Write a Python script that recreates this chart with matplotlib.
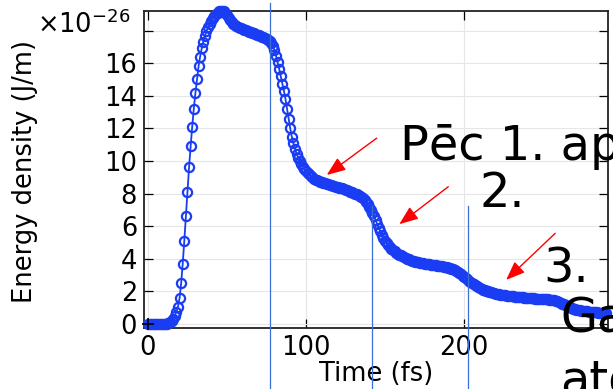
import numpy as np
import matplotlib
matplotlib.use("Agg")
import matplotlib.pyplot as plt

# energy density, units of 1e-26 J/m, one sample per fs
energy = [
    0, 0, 0, 0, 0, 0, 0, 0, 0, 0,
    0, 0, 0.02, 0.05, 0.1, 0.18, 0.3, 0.5, 0.75, 1.06,
    1.58, 2.5, 3.7, 5.1, 6.6, 8.1, 9.6, 10.9, 12.1, 13.2,
    14.15, 15.0, 15.8, 16.4, 16.9, 17.3, 17.65, 17.95, 18.2, 18.4,
    18.6, 18.75, 18.9, 19.0, 19.1, 19.17, 19.22, 19.22, 19.18, 19.08,
    18.95, 18.8, 18.65, 18.5, 18.4, 18.32, 18.26, 18.22, 18.18, 18.14,
    18.1, 18.06, 18.02, 17.98, 17.94, 17.9, 17.86, 17.82, 17.78, 17.74,
    17.7, 17.66, 17.62, 17.58, 17.53, 17.48, 17.42, 17.35, 17.25, 17.05,
    16.8, 16.45, 16.05, 15.65, 15.2, 14.75, 14.3, 13.8, 13.2, 12.6,
    12.0, 11.5, 11.1, 10.75, 10.45, 10.2, 9.98, 9.8, 9.65, 9.52,
    9.4, 9.28, 9.17, 9.07, 8.99, 8.92, 8.86, 8.81, 8.77, 8.73,
    8.7, 8.67, 8.64, 8.61, 8.58, 8.55, 8.52, 8.49, 8.46, 8.43,
    8.4, 8.37, 8.34, 8.31, 8.28, 8.24, 8.2, 8.16, 8.12, 8.08,
    8.04, 8.0, 7.95, 7.9, 7.85, 7.78, 7.7, 7.6, 7.48, 7.35,
    7.2, 7.02, 6.82, 6.6, 6.37, 6.13, 5.9, 5.68, 5.47, 5.28,
    5.11, 4.96, 4.83, 4.72, 4.62, 4.53, 4.45, 4.38, 4.32, 4.26,
    4.2, 4.15, 4.1, 4.05, 4.0, 3.96, 3.92, 3.88, 3.85, 3.82,
    3.79, 3.77, 3.75, 3.73, 3.71, 3.7, 3.68, 3.67, 3.65, 3.64,
    3.62, 3.61, 3.59, 3.58, 3.56, 3.55, 3.53, 3.51, 3.49, 3.47,
    3.45, 3.42, 3.39, 3.35, 3.3, 3.25, 3.19, 3.12, 3.05, 2.97,
    2.89, 2.81, 2.73, 2.65, 2.57, 2.5, 2.43, 2.37, 2.31, 2.25,
    2.2, 2.15, 2.11, 2.07, 2.03, 2.0, 1.97, 1.94, 1.91, 1.88,
    1.86, 1.84, 1.82, 1.8, 1.78, 1.76, 1.75, 1.73, 1.72, 1.71,
    1.7, 1.69, 1.68, 1.67, 1.66, 1.65, 1.64, 1.63, 1.62, 1.61,
    1.6, 1.59, 1.58, 1.57, 1.57, 1.56, 1.55, 1.55, 1.54, 1.53,
    1.53, 1.52, 1.51, 1.5, 1.49, 1.48, 1.46, 1.44, 1.41, 1.38,
    1.34, 1.3, 1.25, 1.2, 1.15, 1.1, 1.05, 1.01, 0.97, 0.94,
    0.91, 0.88, 0.86, 0.84, 0.82, 0.8, 0.79, 0.78, 0.77, 0.76,
    0.75, 0.74, 0.73, 0.72, 0.71, 0.7, 0.7, 0.69, 0.69, 0.68, 0.68,
]
time_fs = np.arange(len(energy))

x_ticks = [0, 100, 200]
y_ticks = [0, 2, 4, 6, 8, 10, 12, 14, 16, 18]
y_tick_labels = ["0", "2", "4", "6", "8", "10", "12", "14", "16", ""]

# pulse markers (fs) and how far up they reach (axes fraction)
pulse_times = [77.5, 141.5, 202.5]
pulse_tops = [1.025, 0.385, 0.385]

# arrows: (tail x, tail y, tip x, tip y) in data units
arrows = [(144.7, 11.4, 113.1, 9.14),
          (190.0, 8.42, 159.0, 6.12),
          (257.6, 5.56, 226.6, 2.7)]

# big labels (figure fraction, baseline)
notes = [("Pēc 1. ap", 0.6525, 0.5887),
         ("2.", 0.783, 0.4686),
         ("3.", 0.8858, 0.2733),
         ("Ga", 0.9135, 0.144),
         ("ato", 0.9135, -0.013)]

blue = "#1a3cf2"
fs = 18.5

fig = plt.figure(figsize=(6.13, 3.89), dpi=100)
ax = fig.add_axes([0.2349, 0.1568, 0.7569, 0.8149])

ax.plot(time_fs, energy, "-o", color=blue, mfc="none", mec=blue,
        ms=6.6, mew=1.6, lw=1.3, clip_on=False, zorder=3)
ax.plot([0], [0], "+", color="black", ms=8, mew=1.2, clip_on=False, zorder=4)

ax.set_xlim(-2.5, 291)
ax.set_ylim(-0.25, 19.2)
ax.set_xticks(x_ticks)
ax.set_yticks(y_ticks)
ax.set_yticklabels(y_tick_labels)
ax.tick_params(direction="in", length=6.5, width=0.9, labelsize=fs,
               top=True, right=True, pad=5)
ax.grid(True, color="#e6e6e6", lw=0.8)
ax.set_axisbelow(True)
for s in ax.spines.values():
    s.set_linewidth(1.3)
    s.set_color("#222222")

ax.set_xlabel("Time (fs)", fontsize=fs)
ax.xaxis.set_label_coords(0.5, -0.105)
ax.xaxis.label.set_va("top")
ax.set_ylabel("Energy density (J/m)", fontsize=fs)
ax.yaxis.set_label_coords(-0.228, 0.494)

fig.text(0.06, 0.915, r"×10$^{\mathregular{-26}}$", fontsize=fs, va="baseline")

trans = ax.get_xaxis_transform()
for t, top in zip(pulse_times, pulse_tops):
    ax.plot([t, t], [top, -0.2], color="#3a6fd6", lw=0.9,
            transform=trans, clip_on=False, zorder=5)

for x0, y0, x1, y1 in arrows:
    ax.annotate("", xy=(x1, y1), xytext=(x0, y0),
                arrowprops=dict(arrowstyle="-|>,head_length=1.15,head_width=0.45",
                                mutation_scale=10, color="red", lw=1.0,
                                shrinkA=0, shrinkB=0))

for txt, x, y in notes:
    fig.text(x, y, txt, fontsize=34.5, va="baseline", ha="left", zorder=10)

fig.savefig("out.png", dpi=100)
